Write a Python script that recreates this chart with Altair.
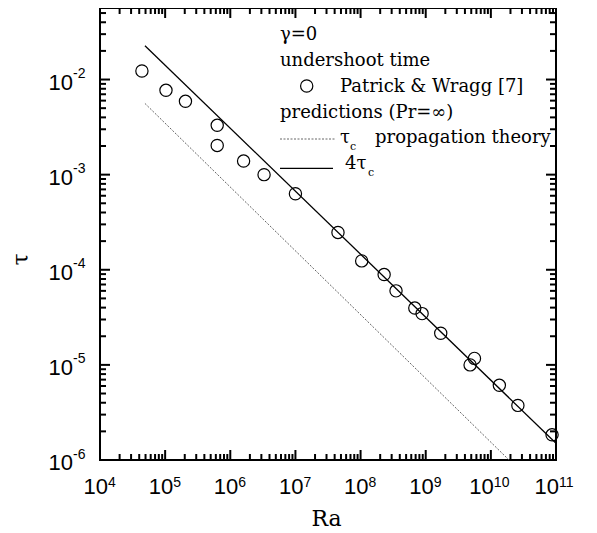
import altair as alt
import pandas as pd

# ---- data ----
# Patrick & Wragg [7] undershoot times
ra_pw = [4.4e4, 1.03e5, 2.05e5, 6.3e5, 6.3e5, 1.6e6, 3.3e6, 1.0e7, 4.5e7, 1.04e8,
         2.3e8, 3.5e8, 6.8e8, 8.8e8, 1.7e9, 4.8e9, 5.6e9, 1.35e10, 2.6e10, 8.7e10]
tau_pw = [1.23e-2, 7.7e-3, 5.9e-3, 3.3e-3, 2.03e-3, 1.39e-3, 1.0e-3, 6.3e-4, 2.47e-4, 1.24e-4,
          8.9e-5, 6.0e-5, 3.96e-5, 3.46e-5, 2.15e-5, 1.0e-5, 1.17e-5, 6.1e-6, 3.75e-6, 1.84e-6]

# prediction lines (end points)
ra_4tc = [4.9e4, 1.0e11]
tau_4tc = [2.27e-2, 1.5e-6]
ra_tc = [4.9e4, 1.9e10]
tau_tc = [5.6e-3, 1.0e-6]

# axes
x_domain = [1e4, 1e11]
y_domain = [1e-6, 0.0565]
x_major = [1e4, 1e5, 1e6, 1e7, 1e8, 1e9, 1e10, 1e11]
x_exps = ["4", "5", "6", "7", "8", "9", "10", "11"]
y_major = [1e-6, 1e-5, 1e-4, 1e-3, 1e-2]
y_exps = ["-6", "-5", "-4", "-3", "-2"]
x_minor = [m * 10.0 ** k for k in range(4, 11) for m in range(2, 10)]
y_minor = [m * 10.0 ** k for k in range(-6, -1) for m in range(2, 10) if m * 10.0 ** k <= 0.0565]

x_title = "Ra"
y_title = "τ"

legend_lines = ["γ=0", "undershoot time", "Patrick & Wragg [7]", "predictions (Pr=∞)",
                "τ", "propagation theory", "4τ"]
legend_subs = ["c", "c"]

# ---- layout ----
W, H = 456, 452
SERIF = "DejaVu Serif"
SANS = "Liberation Sans"
FS = 18
MAJ, MIN = 10, 6

df_pw = pd.DataFrame({"ra": ra_pw, "tau": tau_pw})
df_4tc = pd.DataFrame({"ra": ra_4tc, "tau": tau_4tc})
df_tc = pd.DataFrame({"ra": ra_tc, "tau": tau_tc})

xs = alt.Scale(type="log", domain=x_domain, nice=False)
ys = alt.Scale(type="log", domain=y_domain, nice=False)

x_titled = alt.Axis(orient="bottom", labels=False, ticks=False, domain=False, grid=False,
                    title=x_title, titleFont=SERIF, titleFontSize=22, titleFontWeight="normal",
                    titleColor="black", titleX=226, titleY=65, titleBaseline="alphabetic",
                    titleAlign="center")
y_titled = alt.Axis(orient="left", labels=False, ticks=False, domain=False, grid=False,
                    title=y_title, titleFont=SERIF, titleFontSize=22, titleFontWeight="normal",
                    titleColor="black", titleX=-73, titleY=251, titleBaseline="alphabetic",
                    titleAlign="center", titleAngle=270)

points = alt.Chart(df_pw).mark_point(shape="circle", filled=False, color="black",
                                     strokeWidth=1.2, size=150, opacity=1).encode(
    x=alt.X("ra:Q", scale=xs, axis=x_titled),
    y=alt.Y("tau:Q", scale=ys, axis=y_titled),
)
solid = alt.Chart(df_4tc).mark_line(color="black", strokeWidth=1.3).encode(
    x=alt.X("ra:Q", scale=xs, axis=None),
    y=alt.Y("tau:Q", scale=ys, axis=None),
)
dotted = alt.Chart(df_tc).mark_line(color="#555555", strokeWidth=0.9, strokeDash=[2, 1.5]).encode(
    x=alt.X("ra:Q", scale=xs, axis=None),
    y=alt.Y("tau:Q", scale=ys, axis=None),
)


# ---- inward ticks on all four edges, placed through the scales ----
def x_ticks(vals, length, name):
    d = pd.DataFrame({name: vals})
    out = []
    for y0, y1 in ((H, H - length), (0, length)):
        out.append(alt.Chart(d).mark_rule(color="black", strokeWidth=2).encode(
            x=alt.X(name + ":Q", scale=xs, axis=None), y=alt.value(y0), y2=alt.value(y1)))
    return out


def y_ticks(vals, length, name):
    d = pd.DataFrame({name: vals})
    out = []
    for x0, x1 in ((0, length), (W, W - length)):
        out.append(alt.Chart(d).mark_rule(color="black", strokeWidth=2).encode(
            y=alt.Y(name + ":Q", scale=ys, axis=None), x=alt.value(x0), x2=alt.value(x1)))
    return out


ticks = (x_ticks(x_major, MAJ, "v") + x_ticks(x_minor, MIN, "vm")
         + y_ticks(y_major, MAJ, "w") + y_ticks(y_minor, MIN, "wm"))


# ---- tick labels: "10" with a raised exponent ----
def x_label_layers(vals, exps, dx):
    d = pd.DataFrame({"lv": vals, "b": ["10"] * len(vals), "e": exps})
    base = alt.Chart(d).mark_text(align="right", baseline="alphabetic", font=SANS,
                                  fontSize=22, color="black", dx=dx).encode(
        x=alt.X("lv:Q", scale=xs, axis=None), y=alt.value(486), text="b:N")
    sup = alt.Chart(d).mark_text(align="left", baseline="alphabetic", font=SANS,
                                 fontSize=14, color="black", dx=dx).encode(
        x=alt.X("lv:Q", scale=xs, axis=None), y=alt.value(479), text="e:N")
    return [base, sup]


single = [i for i, e in enumerate(x_exps) if len(e) == 1]
double = [i for i, e in enumerate(x_exps) if len(e) == 2]
x_labels = (x_label_layers([x_major[i] for i in single], [x_exps[i] for i in single], 8)
            + x_label_layers([x_major[i] for i in double], [x_exps[i] for i in double], 3))

dy_lab = pd.DataFrame({"lw": y_major, "b": ["10"] * len(y_major), "e": y_exps})
y_base = alt.Chart(dy_lab).mark_text(align="right", baseline="alphabetic", font=SANS,
                                     fontSize=22, color="black", dx=-27, dy=10).encode(
    y=alt.Y("lw:Q", scale=ys, axis=None), x=alt.value(0), text="b:N")
y_sup = alt.Chart(dy_lab).mark_text(align="left", baseline="alphabetic", font=SANS,
                                    fontSize=14, color="black", dx=-27, dy=-1.5).encode(
    y=alt.Y("lw:Q", scale=ys, axis=None), x=alt.value(0), text="e:N")


# ---- in-plot legend (one table of entries) ----
leg_df = pd.DataFrame({
    "t": legend_lines + legend_subs,
    "px": [180, 180, 240, 180, 240, 275, 245, 250, 268],
    "py": [32, 57.7, 83.7, 110, 135, 135, 161, 142, 168],
    "fs": [FS] * 7 + [11, 11],
})
legend_text = alt.Chart(leg_df).mark_text(
    align="left", baseline="alphabetic", font=SERIF, color="black"
).encode(
    x=alt.X("px:Q", scale=None, axis=None),
    y=alt.Y("py:Q", scale=None, axis=None),
    size=alt.Size("fs:Q", scale=None, legend=None),
    text="t:N",
)
one = pd.DataFrame({"k": [0]})
legend_marks = [
    alt.Chart(one).mark_point(shape="circle", filled=False, color="black",
                              strokeWidth=1.2, size=150, opacity=1).encode(
        x=alt.value(206.7), y=alt.value(78)),
    alt.Chart(one).mark_rule(color="#555555", strokeWidth=0.9, strokeDash=[2, 1.5]).encode(
        x=alt.value(180), x2=alt.value(235), y=alt.value(131)),
    alt.Chart(one).mark_rule(color="black", strokeWidth=1.3).encode(
        x=alt.value(180), x2=alt.value(233), y=alt.value(160.3)),
]

chart = alt.layer(points, solid, dotted, *x_labels, y_base, y_sup,
                  legend_text, *legend_marks, *ticks).resolve_axis(
    x="independent", y="independent"
).properties(
    width=W, height=H,
    autosize=alt.AutoSizeParams(type="none"),
    padding={"left": 92, "top": 0, "right": 30, "bottom": 70},
    background="white",
).configure_view(stroke="black", strokeWidth=2)

chart.save("out.html", embed_options={"renderer": "svg", "actions": False})
